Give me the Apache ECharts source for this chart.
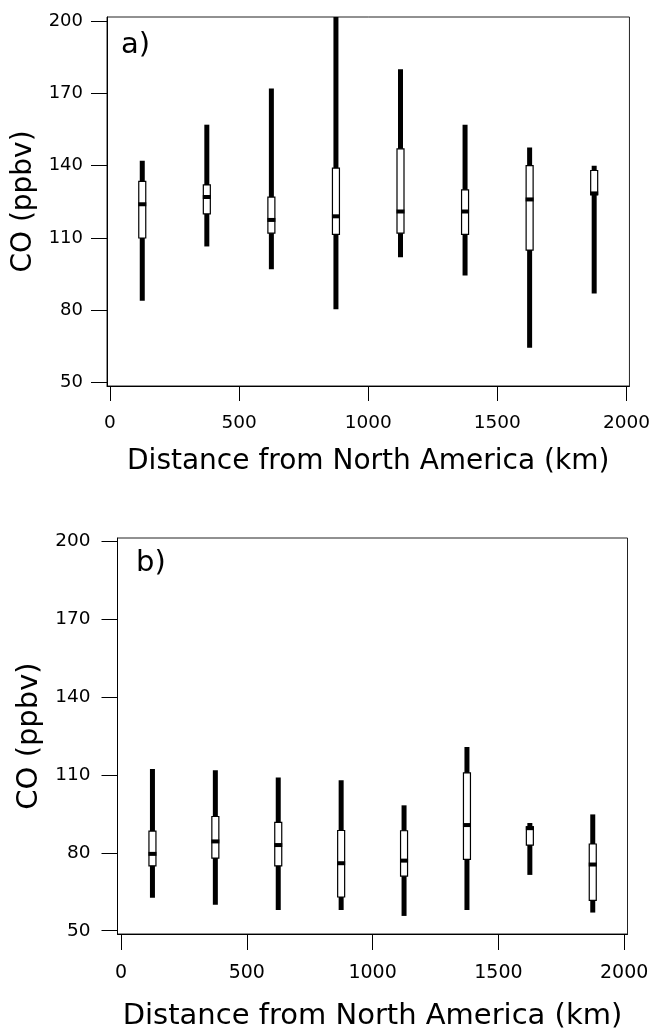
<!DOCTYPE html>
<html>
<head>
<meta charset="utf-8">
<script src="https://cdn.jsdelivr.net/npm/echarts@6/dist/echarts.min.js"></script>
<style>
html,body{margin:0;padding:0;background:#fff;}
#c{width:653px;height:1032px;}
</style>
</head>
<body>
<div id="c"></div>
<script>
// Distance bins (km)
const distances = [125, 375, 625, 875, 1125, 1375, 1625, 1875];

// Panel a) CO (ppbv) statistics
const aMin = [84, 106.5, 97, 80.5, 102, 94.5, 64.5, 87];
const aQ1  = [110, 120, 112, 111.5, 112, 111.5, 105, 128];
const aMed = [124, 127, 117.5, 119, 121, 121, 126, 128.5];
const aQ3  = [133.5, 132, 127, 139, 147, 130, 140, 138];
const aMax = [142, 157, 172, 203, 180, 157, 147.5, 140];

// Panel b) CO (ppbv) statistics
const bMin = [62.7, 60, 58, 58, 55.7, 58, 71.5, 57];
const bQ1  = [75, 78, 75, 63, 71, 77.5, 83, 61.7];
const bMed = [79.6, 84.4, 83, 76, 77, 90.7, 89.5, 75.5];
const bQ3  = [88.4, 94, 91.7, 88.6, 88.5, 110.8, 90, 83.4];
const bMax = [112.3, 111.8, 109, 108, 98.3, 120.8, 91.5, 94.8];

// Tick labels
const xTicks = [0, 500, 1000, 1500, 2000];
const yTicks = [50, 80, 110, 140, 170, 200];

const FONT = 'DejaVu Sans';

function rows(mn, q1, md, q3, mx) {
  return distances.map((d, i) => [d, mn[i], q1[i], md[i], q3[i], mx[i]]);
}

function boxSeries(idx, data, boxW, whiskW, medH) {
  return {
    type: 'custom',
    xAxisIndex: idx,
    yAxisIndex: idx,
    clip: true,
    data: data,
    encode: { x: 0, y: [1, 2, 3, 4, 5] },
    renderItem: function (params, api) {
      const x = api.value(0);
      const pMin = api.coord([x, api.value(1)]);
      const pQ1 = api.coord([x, api.value(2)]);
      const pMed = api.coord([x, api.value(3)]);
      const pQ3 = api.coord([x, api.value(4)]);
      const pMax = api.coord([x, api.value(5)]);
      return {
        type: 'group',
        children: [
          { type: 'rect', shape: { x: pMax[0] - whiskW / 2, y: pMax[1], width: whiskW, height: pMin[1] - pMax[1] }, style: { fill: '#000' } },
          { type: 'rect', shape: { x: pQ3[0] - boxW / 2, y: pQ3[1], width: boxW, height: pQ1[1] - pQ3[1] }, style: { fill: '#fff', stroke: '#000', lineWidth: 1.2 } },
          { type: 'rect', shape: { x: pMed[0] - boxW / 2 - 0.5, y: pMed[1] - medH / 2, width: boxW + 1, height: medH }, style: { fill: '#000' } }
        ]
      };
    }
  };
}

const plain = v => String(v);

function xAxisCfg(idx, min, max, tickLen, fs, margin, nameGap, nameFs) {
  return {
    type: 'value', gridIndex: idx, min: min, max: max,
    axisLine: { show: true, onZero: false, lineStyle: { color: '#000', width: 1 } },
    axisTick: { show: true, length: tickLen, customValues: xTicks, lineStyle: { color: '#000', width: 1 } },
    axisLabel: { customValues: xTicks, formatter: plain, fontSize: fs, margin: margin, color: '#000', fontFamily: FONT },
    splitLine: { show: false },
    name: 'Distance from North America (km)',
    nameLocation: 'middle', nameGap: nameGap,
    nameTextStyle: { fontSize: nameFs, color: '#000', fontFamily: FONT }
  };
}

function yAxisCfg(idx, min, max, tickLen, fs, margin, nameGap, nameFs) {
  return {
    type: 'value', gridIndex: idx, min: min, max: max,
    axisLine: { show: true, onZero: false, lineStyle: { color: '#000', width: 1 } },
    axisTick: { show: true, length: tickLen, customValues: yTicks, lineStyle: { color: '#000', width: 1 } },
    axisLabel: { customValues: yTicks, formatter: plain, fontSize: fs, margin: margin, color: '#000', fontFamily: FONT },
    splitLine: { show: false },
    name: 'CO (ppbv)',
    nameLocation: 'middle', nameGap: nameGap,
    nameTextStyle: { fontSize: nameFs, color: '#000', fontFamily: FONT }
  };
}

const chart = echarts.init(document.getElementById('c'), null, { renderer: 'canvas' });
chart.setOption({
  animation: false,
  backgroundColor: '#fff',
  grid: [
    { left: 107, top: 17, width: 525, height: 369, show: true, borderColor: '#222', borderWidth: 1, containLabel: false },
    { left: 117.5, top: 538, width: 510, height: 398, show: true, borderColor: '#222', borderWidth: 1, containLabel: false }
  ],
  xAxis: [
    xAxisCfg(0, -11.55, 2011.55, 15, 18.5, 28, 62, 28),
    xAxisCfg(1, -13.9, 2013.1, 16, 19, 30, 68, 29)
  ],
  yAxis: [
    yAxisCfg(0, 48.63, 201.66, 16, 18, 24, 59, 28),
    yAxisCfg(1, 48.74, 201.26, 16, 18.5, 27, 71, 29)
  ],
  graphic: [
    { type: 'text', left: 121, top: 31, style: { text: 'a)', fontSize: 29, fontFamily: FONT, fill: '#000' } },
    { type: 'text', left: 136, top: 549, style: { text: 'b)', fontSize: 29, fontFamily: FONT, fill: '#000' } }
  ],
  series: [
    boxSeries(0, rows(aMin, aQ1, aMed, aQ3, aMax), 7, 5, 4),
    boxSeries(1, rows(bMin, bQ1, bMed, bQ3, bMax), 7, 5, 4)
  ]
});
</script>
</body>
</html>
